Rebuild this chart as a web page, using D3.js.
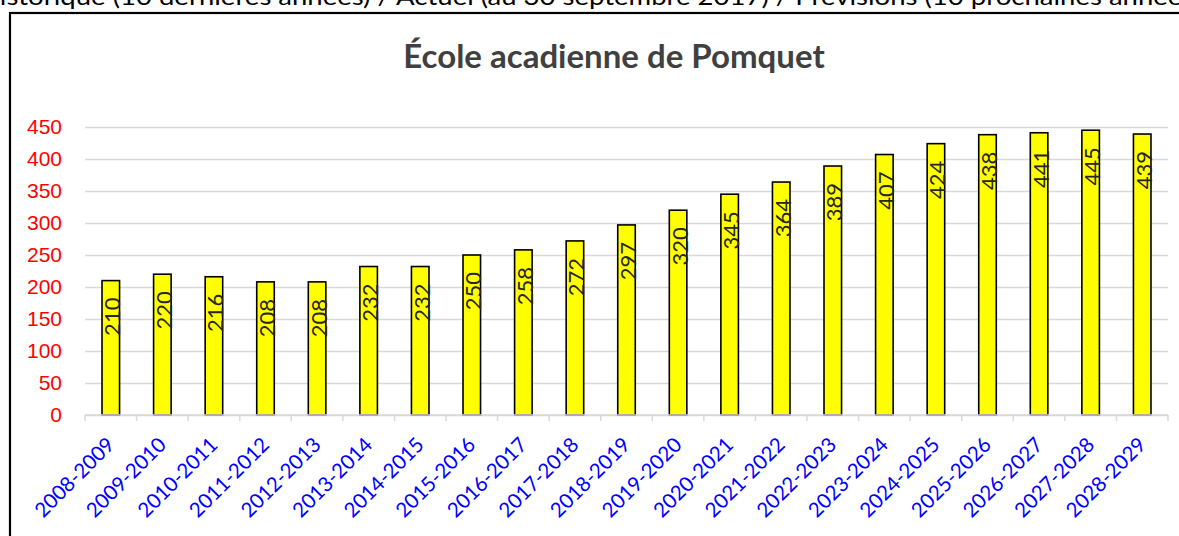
<!DOCTYPE html>
<html>
<head>
<meta charset="utf-8">
<script src="https://cdn.jsdelivr.net/npm/d3@7"></script>
<style>
  body { margin: 0; background: #fff; overflow: hidden; }
  svg { display: block; font-family: Lato, "Open Sans", sans-serif; }
</style>
</head>
<body>
<div id="chart"></div>
<script>
// chart values
const years = ["2008-2009", "2009-2010", "2010-2011", "2011-2012", "2012-2013", "2013-2014",
  "2014-2015", "2015-2016", "2016-2017", "2017-2018", "2018-2019", "2019-2020", "2020-2021",
  "2021-2022", "2022-2023", "2023-2024", "2024-2025", "2025-2026", "2026-2027", "2027-2028", "2028-2029"];
const students = [210, 220, 216, 208, 208, 232, 232, 250, 258, 272, 297, 320, 345, 364, 389, 407, 424, 438, 441, 445, 439];
const yTicks = [0, 50, 100, 150, 200, 250, 300, 350, 400, 450];
const topLine = "Historique (10 dernières années) / Actuel (au 30 septembre 2017) / Prévisions (10 prochaines années)";
const chartTitle = "École acadienne de Pomquet";

const width = 1179, height = 536;
const plot = { left: 85, right: 1168, top: 127, bottom: 415 };

const svg = d3.select("#chart")
  .append("svg")
  .attr("width", width)
  .attr("height", height);

// line of text above the chart, cut off by the page edges like in the source
svg.append("text")
  .attr("x", 590)
  .attr("y", 5)
  .attr("text-anchor", "middle")
  .attr("textLength", 1222)
  .attr("lengthAdjust", "spacingAndGlyphs")
  .style("font-size", "23px")
  .style("fill", "#000")
  .text(topLine);

// chart frame (runs off the right and bottom)
svg.append("rect")
  .attr("x", 10)
  .attr("y", 13)
  .attr("width", 1200)
  .attr("height", 600)
  .attr("fill", "none")
  .attr("stroke", "#000")
  .attr("stroke-width", 2.2);

// title
svg.append("text")
  .attr("x", 614)
  .attr("y", 68)
  .attr("text-anchor", "middle")
  .style("font-size", "33px")
  .style("font-weight", "bold")
  .style("fill", "#404040")
  .text(chartTitle);

var y = d3.scaleLinear()
  .domain([0, 450])
  .range([plot.bottom, plot.top]);

var x = d3.scaleBand()
  .domain(years)
  .range([plot.left, plot.right])
  .paddingInner(0.66)
  .paddingOuter(0.33);

// plain band scale for the category boundaries
var xCell = d3.scaleBand()
  .domain(years)
  .range([plot.left, plot.right]);

// gridlines and red y labels
const yAxis = svg.append("g")
  .attr("transform", `translate(${plot.left},0)`)
  .call(d3.axisLeft(y).tickValues(yTicks).tickSize(-(plot.right - plot.left)).tickPadding(23));
yAxis.select(".domain").remove();
yAxis.selectAll(".tick line")
  .attr("stroke", "#d9d9d9")
  .attr("stroke-width", 1.5);
yAxis.selectAll(".tick text")
  .style("font-size", "21px")
  .style("fill", "#ff0000")
  .attr("font-family", null);

// bars
svg.selectAll("rect.bar")
  .data(students)
  .enter()
  .append("rect")
    .attr("class", "bar")
    .attr("x", (d, i) => x(years[i]))
    .attr("y", d => y(d))
    .attr("width", x.bandwidth())
    .attr("height", d => y(0) - y(d))
    .attr("fill", "#ffff00")
    .attr("stroke", "#000")
    .attr("stroke-width", 1.6);

// x axis line with ticks at category boundaries
const xAxis = svg.append("g");
xAxis.append("line")
  .attr("x1", plot.left)
  .attr("x2", plot.right)
  .attr("y1", y(0))
  .attr("y2", y(0))
  .attr("stroke", "#d9d9d9")
  .attr("stroke-width", 1.5);
xAxis.selectAll("line.tick")
  .data(years.map(d => xCell(d)).concat([plot.right]))
  .enter()
  .append("line")
    .attr("class", "tick")
    .attr("x1", d => d)
    .attr("x2", d => d)
    .attr("y1", y(0))
    .attr("y2", y(0) + 6)
    .attr("stroke", "#d9d9d9")
    .attr("stroke-width", 1.5);

// blue rotated category labels
xAxis.selectAll("text")
  .data(years)
  .enter()
  .append("text")
    .attr("transform", d => `translate(${x(d) + x.bandwidth() / 2 + 5},446) rotate(-45)`)
    .attr("text-anchor", "end")
    .style("font-size", "20.5px")
    .style("fill", "#0000ff")
    .text(d => d);

// value labels, rotated inside the top of each bar
svg.selectAll("text.value")
  .data(students)
  .enter()
  .append("text")
    .attr("class", "value")
    .attr("transform", (d, i) => `translate(${x(years[i]) + x.bandwidth() / 2 + 1},${y(d) + 17}) rotate(-90)`)
    .attr("text-anchor", "end")
    .attr("dominant-baseline", "central")
    .style("font-size", "22px")
    .style("fill", "#262626")
    .text(d => d);
</script>
</body>
</html>
